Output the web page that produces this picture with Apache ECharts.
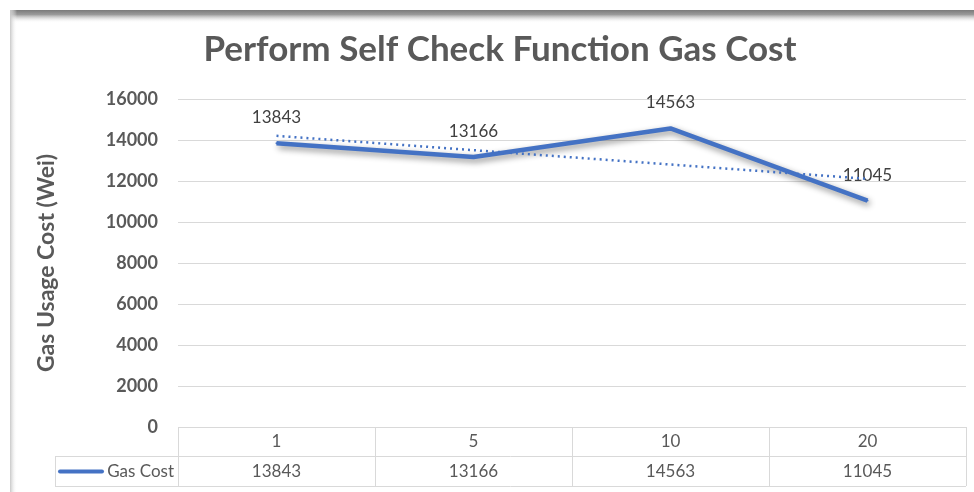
<!DOCTYPE html>
<html>
<head>
<meta charset="utf-8">
<title>Perform Self Check Function Gas Cost</title>
<script src="https://cdn.jsdelivr.net/npm/echarts@6/dist/echarts.min.js"></script>
<style>
  html, body { margin: 0; padding: 0; background: #fff; }
  #chart-container { width: 974px; height: 492px; }
</style>
</head>
<body>
<div id="chart-container"></div>
<script>
// chart data
var categories = ["1", "5", "10", "20"];
var gasCost = [13843, 13166, 14563, 11045];
var yTicks = [0, 2000, 4000, 6000, 8000, 10000, 12000, 14000, 16000];

// linear trendline (least squares over the category positions, like Excel)
function linearTrend(values) {
  var n = values.length, sx = 0, sy = 0, sxy = 0, sxx = 0;
  for (var i = 0; i < n; i++) {
    var x = i + 1;
    sx += x; sy += values[i]; sxy += x * values[i]; sxx += x * x;
  }
  var slope = (n * sxy - sx * sy) / (n * sxx - sx * sx);
  var icpt = (sy - slope * sx) / n;
  return values.map(function (v, i) { return slope * (i + 1) + icpt; });
}
var trend = linearTrend(gasCost);

var dom = document.getElementById("chart-container");
var myChart = echarts.init(dom, null, { renderer: "canvas" });

var FONT = "Lato, 'Open Sans', sans-serif";
var GRID_L = 178, GRID_R = 8, GRID_T = 99, GRID_B = 65;
var tableTop = 427, rowMid = 456, tableBottom = 486, legendLeft = 55;

var W = 974;
var plotRight = W - GRID_R;
var band = (plotRight - GRID_L) / categories.length;

var tableLines = [];
var lineStyle = { stroke: "#d9d9d9", lineWidth: 1 };
// horizontal table lines
tableLines.push({ type: "line", shape: { x1: GRID_L, y1: tableTop + 0.5, x2: plotRight, y2: tableTop + 0.5 }, style: lineStyle, silent: true });
tableLines.push({ type: "line", shape: { x1: legendLeft, y1: rowMid + 0.5, x2: plotRight, y2: rowMid + 0.5 }, style: lineStyle, silent: true });
tableLines.push({ type: "line", shape: { x1: legendLeft, y1: tableBottom + 0.5, x2: plotRight, y2: tableBottom + 0.5 }, style: lineStyle, silent: true });
// vertical table lines
tableLines.push({ type: "line", shape: { x1: legendLeft + 0.5, y1: rowMid, x2: legendLeft + 0.5, y2: tableBottom }, style: lineStyle, silent: true });
for (var i = 0; i <= categories.length; i++) {
  var x = Math.round(GRID_L + band * i) + 0.5;
  tableLines.push({ type: "line", shape: { x1: x, y1: tableTop, x2: x, y2: tableBottom }, style: lineStyle, silent: true });
}
// value cells
for (var j = 0; j < gasCost.length; j++) {
  tableLines.push({
    type: "text",
    x: GRID_L + band * (j + 0.5), y: (rowMid + tableBottom) / 2 + 1,
    style: { text: String(gasCost[j]), fill: "#595959", font: "17px " + FONT, align: "center", verticalAlign: "middle" },
    silent: true
  });
}
// legend key in the table
tableLines.push({ type: "line", shape: { x1: 60, y1: 471.5, x2: 102, y2: 471.5 }, style: { stroke: "#4472C4", lineWidth: 4, lineCap: "round" }, silent: true });
tableLines.push({
  type: "text", x: 174, y: 472,
  style: { text: "Gas Cost", fill: "#595959", font: "17px " + FONT, align: "right", verticalAlign: "middle" },
  silent: true
});

// frame shadow (top and left edge)
var frame = [
  { type: "rect", shape: { x: 10, y: 10, width: W - 10, height: 13 },
    style: { fill: new echarts.graphic.LinearGradient(0, 0, 0, 1, [
      { offset: 0, color: "#7a7a7a" }, { offset: 0.35, color: "#9a9a9a" }, { offset: 1, color: "rgba(255,255,255,0)" }]) }, silent: true, z: 100 },
  { type: "rect", shape: { x: 10, y: 10, width: 7, height: 482 },
    style: { fill: new echarts.graphic.LinearGradient(0, 0, 1, 0, [
      { offset: 0, color: "#c8c8c8" }, { offset: 1, color: "rgba(255,255,255,0)" }]) }, silent: true, z: 100 }
];

var option = {
  animation: false,
  backgroundColor: "#fff",
  title: {
    text: "Perform Self Check Function Gas Cost",
    left: 495, top: 27, textAlign: "center",
    textStyle: { fontFamily: FONT, fontSize: 35, fontWeight: "bold", color: "#595959" }
  },
  grid: { left: GRID_L, right: GRID_R, top: GRID_T, bottom: GRID_B },
  xAxis: {
    type: "category",
    data: categories,
    boundaryGap: true,
    axisLine: { show: false },
    axisTick: { show: false },
    axisLabel: { color: "#595959", fontFamily: FONT, fontSize: 17, margin: 6 }
  },
  yAxis: {
    type: "value",
    min: yTicks[0], max: yTicks[yTicks.length - 1], interval: yTicks[1] - yTicks[0],
    name: "Gas Usage Cost (Wei)",
    nameLocation: "middle",
    nameGap: 120,
    nameTextStyle: { fontFamily: FONT, fontSize: 23, fontWeight: "bold", color: "#595959" },
    axisLine: { show: false },
    axisTick: { show: false },
    axisLabel: { color: "#595959", fontFamily: FONT, fontSize: 18, fontWeight: "bold", margin: 20,
      formatter: function (v) { return String(v); } },
    splitLine: { lineStyle: { color: "#d9d9d9", width: 1 } }
  },
  series: [
    {
      name: "Gas Cost",
      type: "line",
      data: gasCost,
      symbol: "circle",
      symbolSize: 2,
      showSymbol: true,
      itemStyle: { color: "#4472C4" },
      lineStyle: { color: "#4472C4", width: 4.5, shadowColor: "rgba(0,0,0,0.45)", shadowBlur: 6, shadowOffsetX: 2, shadowOffsetY: 3 },
      label: { show: true, position: "top", distance: 16, color: "#404040", fontFamily: FONT, fontSize: 17 },
      labelLayout: { hideOverlap: false },
      z: 3
    },
    {
      name: "Linear (Gas Cost)",
      type: "line",
      data: trend,
      symbol: "none",
      lineStyle: { color: "#4472C4", width: 2.5, type: [2, 4] },
      z: 4
    }
  ],
  graphic: tableLines.concat(frame)
};

if (option && typeof option === "object") {
  myChart.setOption(option);
}
</script>
</body>
</html>
